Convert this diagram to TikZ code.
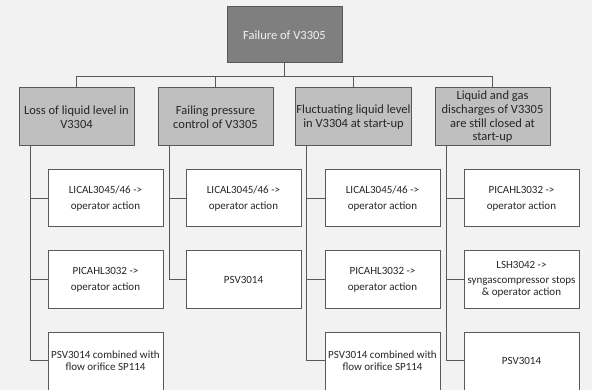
\documentclass[tikz,border=0pt]{standalone}
\usepackage{fontspec}
\setmainfont{Carlito}
\definecolor{bgc}{HTML}{F2F2F2}
\definecolor{topfill}{HTML}{7F7F7F}
\definecolor{midfill}{HTML}{BFBFBF}
\definecolor{edge}{HTML}{595959}
\definecolor{ink}{HTML}{262626}
\begin{document}
\begin{tikzpicture}[x=1pt,y=-1pt,
  box/.style={draw=edge,line width=1pt,rectangle,align=center,inner sep=1pt,
    minimum width=115pt,text=ink},
  rootbox/.style={box,fill=topfill,minimum height=56pt,text=bgc,
    font=\fontsize{12.5}{13.7}\selectfont},
  causebox/.style={box,fill=midfill,minimum height=58pt,
    font=\fontsize{12.5}{13.7}\selectfont},
  guardbox/.style={box,fill=white,minimum height=57pt,
    font=\fontsize{11}{12}\selectfont},
  % lowest safeguard boxes run past the lower edge; their text sits 3.5pt above the box centre
  lastbox/.style={guardbox,minimum height=64pt,anchor=north},
  lasttext/.style={align=center,inner sep=1pt,text=ink,yshift=3.5pt,
    font=\fontsize{11}{12}\selectfont},
  link/.style={draw=edge,line width=1pt}]
\fill[bgc] (0,0) rectangle (592,390);
\useasboundingbox (0,0) rectangle (592,390);
\clip (0,0) rectangle (592,390);

% root
\node[rootbox] (top) at (284.5,35) {Failure of V3305};
\coordinate (bus) at (284.5,77);

% causes
\node[causebox] (a) at (76.5,117) {Loss of liquid level in\\V3304};
\node[causebox] (b) at (215.5,117) {Failing pressure\\control of V3305};
\node[causebox] (c) at (353.5,117) {Fluctuating liquid level\\in V3304 at start-up};
\node[causebox] (d) at (492.5,117) {Liquid and gas\\discharges of V3305\\are still closed at\\start-up};

% safeguards
\node[guardbox] (a1) at (105.5,198.5) {LICAL3045/46 ->\\[4pt]operator action};
\node[guardbox] (a2) at (105.5,279.5) {PICAHL3032 ->\\[4pt]operator action};
\node[lastbox,label={[lasttext]center:PSV3014 combined with\\flow orifice SP114}] (a3) at (105.5,332) {};

\node[guardbox] (b1) at (243.5,198.5) {LICAL3045/46 ->\\[4pt]operator action};
\node[guardbox] (b2) at (243.5,279.5) {PSV3014};

\node[guardbox] (c1) at (382.5,198.5) {LICAL3045/46 ->\\[4pt]operator action};
\node[guardbox] (c2) at (382.5,279.5) {PICAHL3032 ->\\[4pt]operator action};
\node[lastbox,label={[lasttext]center:PSV3014 combined with\\flow orifice SP114}] (c3) at (382.5,332) {};

\node[guardbox] (d1) at (521.5,198.5) {PICAHL3032 ->\\[4pt]operator action};
\node[guardbox] (d2) at (521.5,279.5) {LSH3042 ->\\[3pt]syngascompressor stops\\\& operator action};
\node[lastbox,label={[lasttext]center:PSV3014}] (d3) at (521.5,332) {};

% root to causes
\foreach \n in {a,b,c,d}
  \draw[link] (top.south) -- (top.south |- bus) -| (\n.north);

% cause spines
\foreach \n in {a,b,c,d}
  \coordinate (\n v) at ([xshift=12pt]\n.south west);
\coordinate (lastrow) at (0,360.5);
\draw[link] (av) |- (a3.west |- lastrow);
\draw[link] (bv) |- (b2.west);
\draw[link] (cv) |- (c3.west |- lastrow);
\draw[link] (dv) |- (d3.west |- lastrow);
\foreach \n in {a1,a2}
  \draw[link] (\n.west) -- (\n.west -| av);
\draw[link] (b1.west) -- (b1.west -| bv);
\foreach \n in {c1,c2}
  \draw[link] (\n.west) -- (\n.west -| cv);
\foreach \n in {d1,d2}
  \draw[link] (\n.west) -- (\n.west -| dv);
\end{tikzpicture}
\end{document}
